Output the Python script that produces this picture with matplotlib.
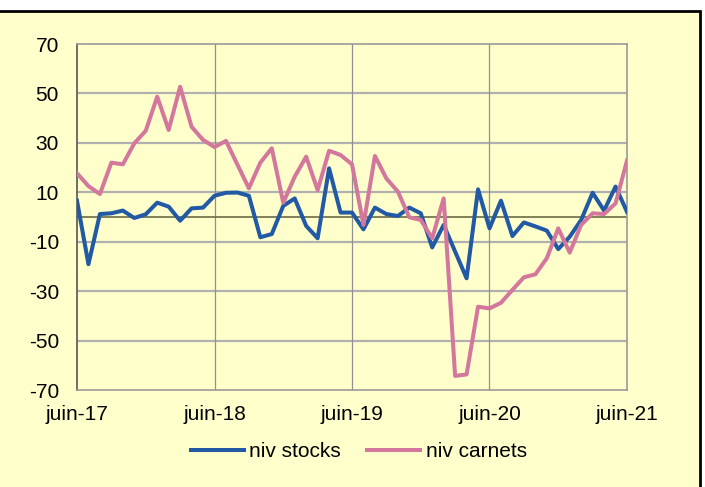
import numpy as np
import matplotlib
matplotlib.use("Agg")
from matplotlib import pyplot as plt
from matplotlib.patches import Rectangle

plt.rcParams['font.family'] = ['Liberation Sans', 'DejaVu Sans']
plt.rcParams['axes.unicode_minus'] = False

# monthly values, juin-17 .. juin-21
niv_stocks = [6.6, -19.1, 1.2, 1.5, 2.6, -0.4, 1.1, 5.8, 4.2, -1.5, 3.5, 3.8,
              8.6, 9.8, 9.9, 8.6, -8.2, -6.9, 4.5, 7.5, -3.6, -8.6, 19.7, 1.8,
              1.8, -5.0, 3.8, 1.2, 0.4, 3.8, 1.5, -12.3, -3.2, -14.0, -24.8, 11.2,
              -4.6, 6.6, -7.7, -2.2, -3.8, -5.5, -13.0, -8.0, -1.2, 9.8, 2.6, 12.3,
              2.1]
niv_carnets = [17.7, 12.5, 9.3, 22.0, 21.3, 29.8, 34.9, 48.7, 35.2, 52.7, 36.5, 31.2,
               28.3, 30.8, 21.2, 11.6, 22.0, 27.8, 5.8, 16.3, 24.4, 10.9, 26.8, 25.1,
               21.3, -3.2, 24.7, 15.6, 10.3, -0.1, -1.2, -8.6, 7.5, -64.3, -63.7, -36.3,
               -37.0, -34.7, -29.5, -24.4, -23.2, -16.7, -4.6, -14.4, -3.2, 1.5, 1.2, 5.5,
               22.8]
tick_pos = [0, 12, 24, 36, 48]
tick_labels = ["juin-17", "juin-18", "juin-19", "juin-20", "juin-21"]
y_ticks = [-70, -50, -30, -10, 10, 30, 50, 70]

bg = "#FFFFCC"
fig = plt.figure(figsize=(7.05, 4.87), dpi=100, facecolor="white")
fig.patches.append(Rectangle((-0.01, -0.01), 700 / 705 + 0.01, 1 - 11 / 487 + 0.01,
                             transform=fig.transFigure, facecolor=bg,
                             edgecolor="black", linewidth=2, zorder=-10))

ax = fig.add_axes([77 / 705, 1 - 390 / 487, 550 / 705, 346 / 487])
ax.set_facecolor(bg)

x = np.arange(len(niv_stocks))
for yv in y_ticks[1:-1]:
    ax.axhline(yv, color="#B0B0B0", linewidth=1.6, zorder=1)
for xv in tick_pos[1:-1]:
    ax.axvline(xv, color="#909090", linewidth=0.9, zorder=1)
ax.axhline(0, color="#6B6B45", linewidth=1.2, zorder=2)

ax.plot(x, niv_stocks, color="#2159A5", linewidth=2.9, label="niv stocks", zorder=3)
ax.plot(x, niv_carnets, color="#D4779C", linewidth=2.9, label="niv carnets", zorder=3)

ax.set_xlim(0, 48)
ax.set_ylim(-70, 70)
ax.set_yticks(y_ticks)
ax.set_xticks(tick_pos)
ax.set_xticklabels(tick_labels)
ax.tick_params(axis="both", length=0, labelsize=15)
ax.tick_params(axis="y", pad=13)
ax.tick_params(axis="x", pad=11)

for s in ["top", "right", "bottom"]:
    ax.spines[s].set_color("#999999")
    ax.spines[s].set_linewidth(1.2)
ax.spines["left"].set_color("#555555")
ax.spines["left"].set_linewidth(1.2)

fig.legend(loc="center", bbox_to_anchor=(0.509, 0.072), ncol=2, frameon=False,
           fontsize=15, handlelength=2.55, columnspacing=1.25, handletextpad=0.25)

fig.savefig("out.png", dpi=100, facecolor="white")
